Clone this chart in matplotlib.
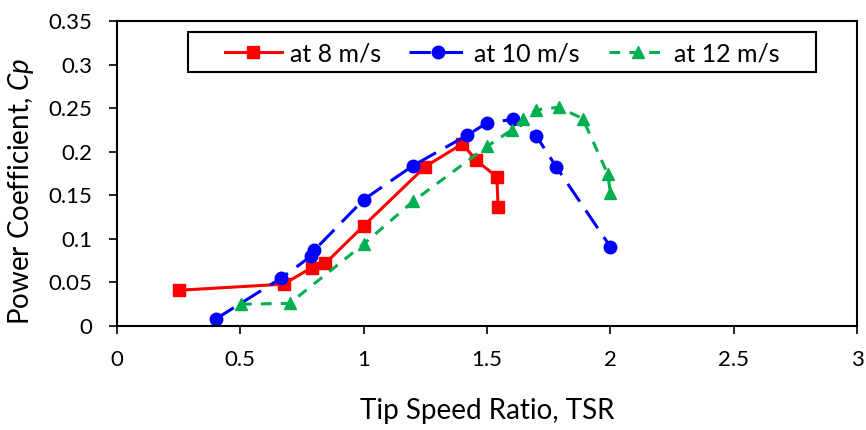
import matplotlib
matplotlib.use("Agg")
import matplotlib.pyplot as plt
from matplotlib.patches import Rectangle

plt.rcParams['font.family'] = ['Lato', 'DejaVu Sans']
plt.rcParams['mathtext.fontset'] = 'custom'
plt.rcParams['mathtext.it'] = 'Lato:italic'

tsr_8 = [0.25, 0.675, 0.79, 0.845, 1.0, 1.25, 1.40, 1.457, 1.54, 1.545]
cp_8 = [0.041, 0.048, 0.067, 0.072, 0.115, 0.183, 0.209, 0.190, 0.171, 0.136]

tsr_10 = [0.40, 0.666, 0.786, 0.80, 1.0, 1.20, 1.42, 1.50, 1.604, 1.70, 1.78, 2.0]
cp_10 = [0.008, 0.055, 0.080, 0.087, 0.145, 0.184, 0.219, 0.233, 0.237, 0.218, 0.183, 0.091]

tsr_12 = [0.503, 0.70, 1.0, 1.20, 1.50, 1.60, 1.645, 1.70, 1.79, 1.888, 1.99, 2.0]
cp_12 = [0.025, 0.026, 0.094, 0.143, 0.206, 0.225, 0.237, 0.248, 0.251, 0.238, 0.174, 0.153]

labels = ["at 8 m/s", "at 10 m/s", "at 12 m/s"]

fig = plt.figure(figsize=(8.66, 4.30), dpi=100)
ax = fig.add_axes([117/866, 1 - 326/430, (857-117)/866, (326-21)/430])

ax.plot(tsr_8, cp_8, color='#ff0000', lw=2.2, marker='s', ms=9, label=labels[0])
ax.plot(tsr_10, cp_10, color='#0000ff', lw=2.2, ls=(0, (7, 3.5)), marker='o', ms=9, label=labels[1])
ax.plot(tsr_12, cp_12, color='#00b050', lw=2.2, ls=(0, (3.5, 3)), marker='^', ms=9, label=labels[2])

ax.set_xlim(0, 3)
ax.set_ylim(0, 0.35)
ax.set_xticks([0, 0.5, 1, 1.5, 2, 2.5, 3])
ax.set_xticklabels(['0', '0.5', '1', '1.5', '2', '2.5', '3'])
ax.set_yticks([0, 0.05, 0.1, 0.15, 0.2, 0.25, 0.3, 0.35])
ax.set_yticklabels(['0', '0.05', '0.1', '0.15', '0.2', '0.25', '0.3', '0.35'])
ax.tick_params(direction='out', length=6, width=1.2, labelsize=16, color='black')
ax.tick_params(axis='x', pad=11)
ax.tick_params(axis='y', pad=12)
for s in ax.spines.values():
    s.set_linewidth(1.5)

ax.set_xlabel('Tip Speed Ratio, TSR', fontsize=20)
ax.xaxis.set_label_coords(0.5, -0.235)
ax.set_ylabel('Power Coefficient, $\\mathit{Cp}$', fontsize=20)
ax.yaxis.set_label_coords(-0.109, 0.443)

# legend box
bx0, bx1 = (188-117)/740, (816-117)/740
by0, by1 = (326-72)/305, (326-32)/305
ax.add_patch(Rectangle((bx0, by0), bx1 - bx0, by1 - by0, transform=ax.transAxes,
                       facecolor='white', edgecolor='black', lw=1.5, zorder=4, clip_on=False))
leg = ax.legend(loc='center', bbox_to_anchor=((bx0 + bx1)/2, (by0 + by1)/2 - 0.005), ncol=3, fontsize=18,
                frameon=False, handlelength=2.3, handletextpad=0.3, columnspacing=1.15,
                borderpad=0.0)
leg.set_zorder(5)

fig.savefig('out.png', dpi=100)
